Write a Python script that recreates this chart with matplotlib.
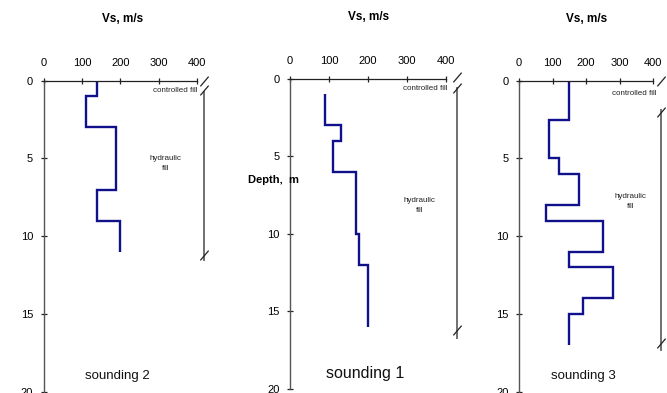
import matplotlib
matplotlib.use("Agg")
import matplotlib.pyplot as plt
from matplotlib.path import Path

plt.rcParams["font.family"] = ["Liberation Sans", "DejaVu Sans"]

# Shear-wave velocity profiles (layer boundaries in m, layer Vs in m/s)
s2_depth = [0, 1, 3, 7, 9, 11]
s2_vs = [140, 110, 190, 140, 200]

s1_depth = [1, 3, 4, 6, 10, 12, 16]
s1_vs = [90, 130, 110, 170, 178, 200]

s3_depth = [0, 2.5, 5, 6, 8, 9, 11, 12, 14, 15, 17]
s3_vs = [150, 90, 120, 180, 80, 250, 150, 280, 190, 150]

# Fill bracket: x position (m/s), top/bottom of hydraulic fill bracket, break depths
s2_bracket = dict(x=418, top=0.7, bottom=11.5, breaks=[0.0, 0.6, 11.2])
s1_bracket = dict(x=428, top=0.6, bottom=16.7, breaks=[-0.1, 0.6, 16.2])
s3_bracket = dict(x=422, top=1.9, bottom=17.3, breaks=[0.0, 2.0, 16.9])

vs_ticks = [0, 100, 200, 300, 400]
depth_ticks = [0, 5, 10, 15, 20]

W, H = 667, 393
fig = plt.figure(figsize=(W / 100, H / 100), dpi=100)

NAVY = "#10108a"
slash = Path([(-0.85, -1.0), (0.85, 1.0)])


def panel(rect_px, depth, vs, bracket, title, title_size, fill_pos, ctrl_pos):
    left, top, right, bottom = rect_px
    ax = fig.add_axes([left / W, 1 - bottom / H, (right - left) / W, (bottom - top) / H])
    ax.set_xlim(0, 400)
    ax.set_ylim(20, 0)
    ax.xaxis.tick_top()
    ax.set_xticks(vs_ticks)
    ax.set_yticks(depth_ticks)
    for side in ("right", "bottom"):
        ax.spines[side].set_visible(False)
    ax.spines["top"].set_color("#222222")
    ax.spines["left"].set_color("#555555")
    ax.spines["top"].set_linewidth(0.9)
    ax.spines["left"].set_linewidth(1.0)
    ax.tick_params(axis="x", direction="inout", length=5, width=0.9, pad=7,
                   labelsize=8, color="#222222")
    ax.tick_params(axis="y", direction="inout", length=5, width=0.9, pad=5,
                   labelsize=8, color="#222222")
    for lab in ax.get_yticklabels():
        lab.set_verticalalignment("center_baseline")
    ax.patch.set_visible(False)

    ax.stairs(vs, depth, orientation="horizontal", baseline=None,
              color=NAVY, linewidth=1.7)

    bx = bracket["x"]
    ax.plot([bx, bx], [bracket["top"], bracket["bottom"]], color="#707070",
            lw=1.4, clip_on=False)
    ax.plot([bx] * len(bracket["breaks"]), bracket["breaks"], linestyle="none",
            marker=slash, markersize=7, markeredgewidth=0.9,
            markeredgecolor="#222222", clip_on=False)

    ax.text(ctrl_pos[0], ctrl_pos[1], "controlled fill", fontsize=5.8, ha="right",
            va="center", color="#222222", clip_on=False)
    ax.text(fill_pos[0], fill_pos[1], "hydraulic\nfill", fontsize=5.8, ha="center",
            va="center", color="#222222", linespacing=1.6, clip_on=False)
    ax.text(0.48, 0.05, title, transform=ax.transAxes, fontsize=title_size,
            ha="center", va="center", color="#111111")
    return ax


panel((43.5, 80.7, 197, 391.7), s2_depth, s2_vs, s2_bracket, "sounding 2", 9.5,
      (318, 5.3), (401, 0.65))
panel((290, 78.7, 446, 388.7), s1_depth, s1_vs, s1_bracket, "sounding 1", 11.5,
      (333, 8.15), (405, 0.65))
panel((519, 80.7, 653.3, 391.7), s3_depth, s3_vs, s3_bracket, "sounding 3", 9.5,
      (332, 7.75), (409, 0.85))

fig.text(123 / W, 1 - 19 / H, "Vs, m/s", fontsize=8.5, fontweight="bold",
         ha="center", va="center")
fig.text(369 / W, 1 - 17 / H, "Vs, m/s", fontsize=8.5, fontweight="bold",
         ha="center", va="center")
fig.text(587 / W, 1 - 19 / H, "Vs, m/s", fontsize=8.5, fontweight="bold",
         ha="center", va="center")
fig.text(248 / W, 1 - 180 / H, "Depth,  m", fontsize=8, fontweight="bold",
         ha="left", va="center")

fig.savefig("out.png", dpi=100)
